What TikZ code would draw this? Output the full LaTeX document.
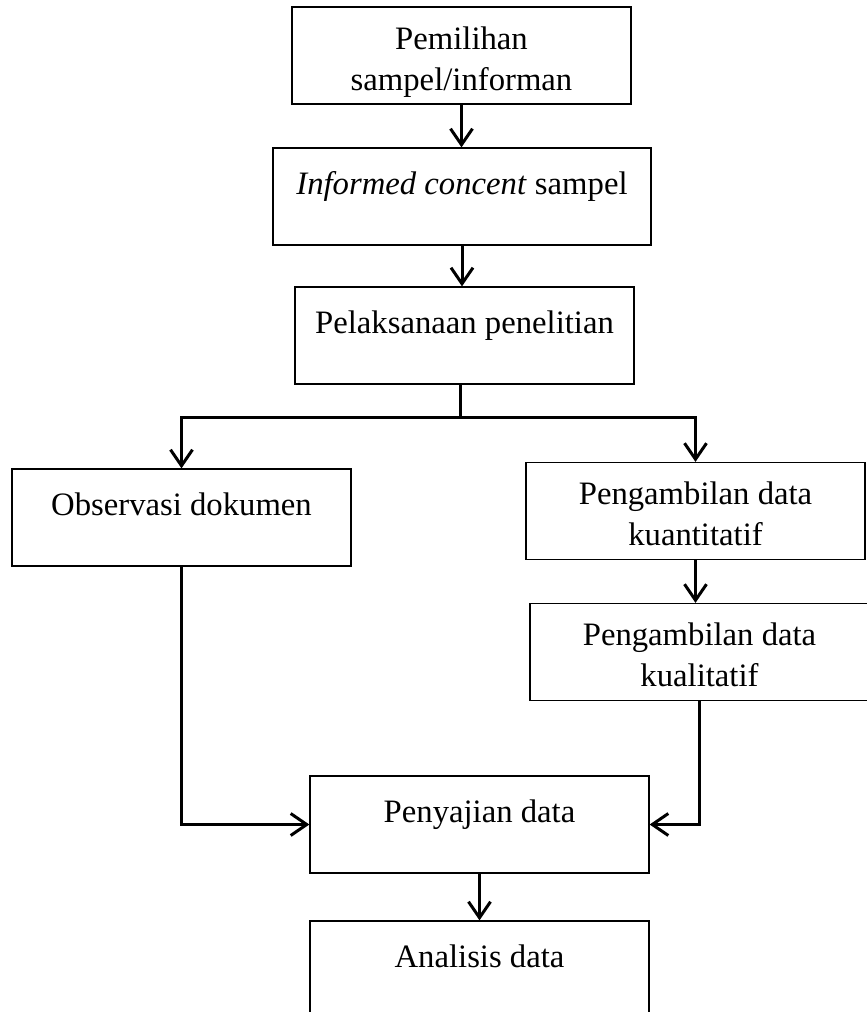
\documentclass[tikz,border=0pt]{standalone}
\usepackage{fontspec}
\setmainfont{Liberation Serif}
\usetikzlibrary{arrows.meta}

\begin{document}
\begin{tikzpicture}[x=1pt, y=-1pt,
	kotak/.style={draw, line width=1.3pt, minimum width=339pt, minimum height=97pt,
		align=center, font=\fontsize{32.7}{41}\selectfont, text height=69pt, text depth=0pt},
	kotaksatu/.style={kotak, text height=22pt, text depth=27pt},
	panah/.style={line width=3pt, -{Straight Barb[length=16pt,width=22pt]}}]
			%%%%% START %%%%%
			\useasboundingbox (0,0) rectangle (867,1012);
			
			\node[kotak] (pilih) at (461.5,55.5) {Pemilihan\\sampel/informan};
			\node[kotaksatu, minimum width=378pt] (setuju) at (462,196.5) {\textit{Informed concent} sampel};
			\node[kotaksatu] (laksana) at (464.5,335.5) {Pelaksanaan penelitian};
			
			\node[kotaksatu] (observasi) at (181.5,517.5) {Observasi dokumen};
			\node[kotak] (kuanti) at (695.5,511) {Pengambilan data\\kuantitatif};
			\node[kotak] (kuali) at (699.5,652) {Pengambilan data\\kualitatif};
			
			\node[kotaksatu] (sajian) at (479.5,824.5) {Penyajian data};
			\node[kotaksatu] (analisis) at (479.5,969.5) {Analisis data};
			
			\draw[panah] (pilih.south) -- (pilih.south |- setuju.north);
			\draw[panah] (setuju.south) -- (setuju.south |- laksana.north);
			
			\coordinate (cabang) at (460,417);
			\draw[line width=3pt] (laksana.south -| cabang) -- (cabang);
			\draw[panah] (cabang) -| (observasi.north);
			\draw[panah] (cabang) -| (kuanti.north);
			
			\draw[panah] (kuanti.south) -- (kuanti.south |- kuali.north);
			\draw[panah] (observasi.south) |- (sajian.west);
			\draw[panah] (kuali.south) |- (sajian.east);
			\draw[panah] (sajian.south) -- (analisis.north);
			%%%%% END %%%%%
\end{tikzpicture}
\end{document}
